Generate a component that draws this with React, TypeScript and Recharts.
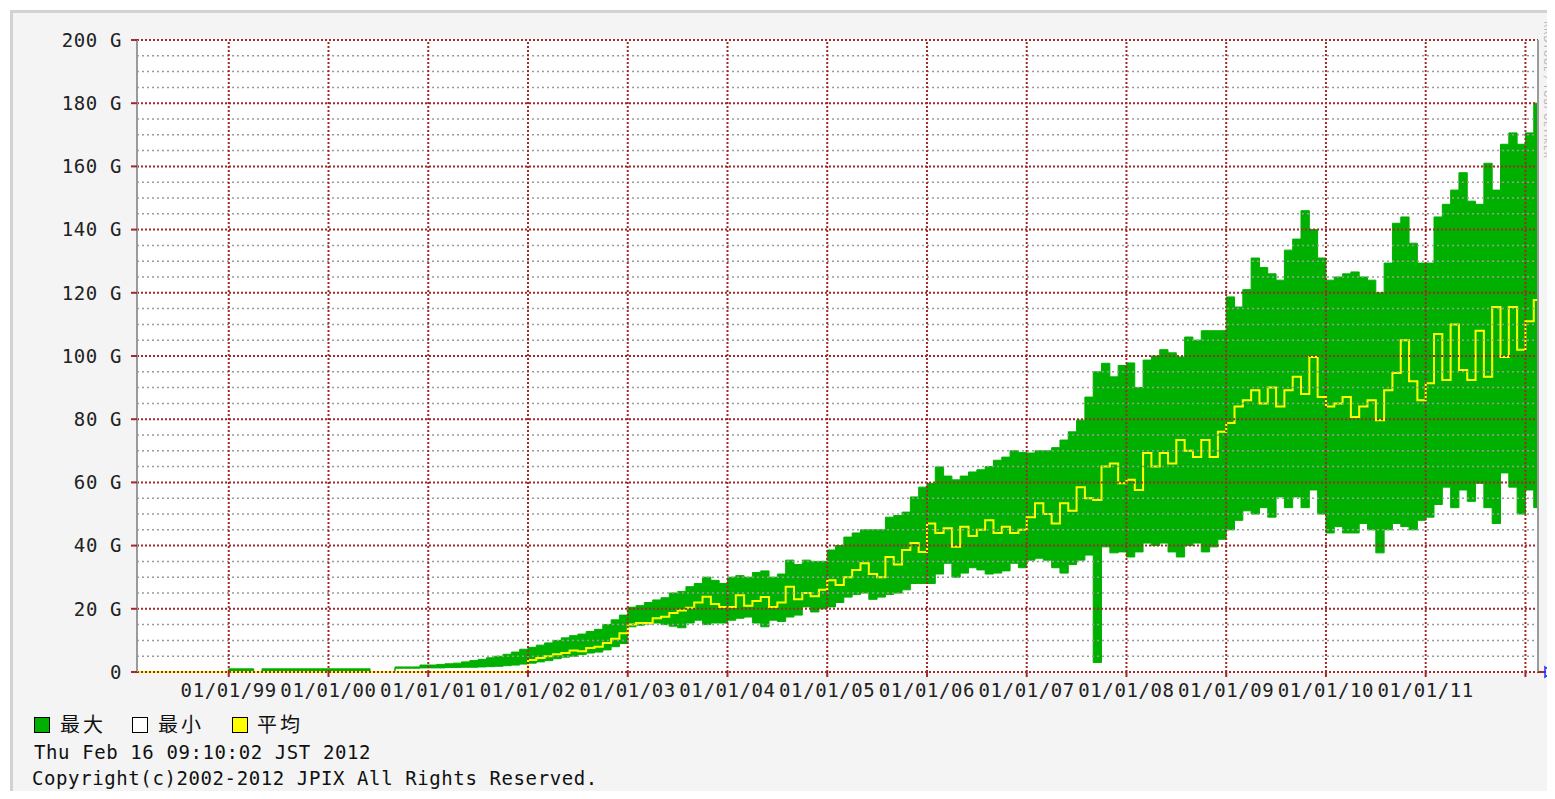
import React from "react";
import { ComposedChart, Area, Line, XAxis, YAxis, ReferenceLine, CartesianGrid } from "recharts";

// monthly samples, first one is Feb 1998; the last entry is the graph end (Feb 16 2012)
const FIRST_MONTH = 1998 + 1 / 12;
const END_TIME = 2012.126;

// traffic in Gbps
const maxG = [
  0, 0, 0, 0, 0, 0, 0, 0, 0, 0, 0,
  1, 1, 1, 0, 1, 1, 1, 1, 1, 1, 1, 1,
  1, 1, 1, 1, 1, 0, 0, 0, 1.6, 1.6, 1.6, 2.2,
  2.2, 2.4, 2.6, 2.8, 3.2, 3.6, 4.0, 4.5, 5.0, 5.6, 6.3, 7.2,
  7.8, 8.5, 9.2, 10, 10.8, 11.5, 12, 12.8, 13.5, 15, 16.5, 18,
  20.5, 21, 22, 22.8, 23.5, 25, 25.5, 27, 28, 30, 29, 28,
  30, 30.5, 30, 31.5, 32, 30, 31, 35.4, 34, 35.4, 35, 35,
  38.6, 40, 42.7, 44, 45, 45, 45, 49, 49.5, 50.6, 55.4, 58.5,
  59.7, 64.9, 62, 60.8, 62, 63.3, 64, 65, 67, 68, 70, 69.5,
  69.3, 70, 70, 71, 73.4, 76, 79.7, 87, 95, 97.7, 93.4, 97,
  97.8, 90, 98.7, 100, 102, 101, 99.7, 106, 105, 108, 108, 108,
  118.7, 115.5, 121, 131, 128, 126, 124, 133.5, 137, 146, 140, 131,
  124, 125, 126, 126.6, 125, 124, 120, 129.4, 142, 144, 135.7, 129.4,
  129.4, 144, 148, 152.5, 158, 149, 148, 161, 152.5, 167, 170.6, 167,
  170.6, 180,
  178,
];

const minG = [
  0, 0, 0, 0, 0, 0, 0, 0, 0, 0, 0,
  0, 0, 0, 0, 0, 0, 0, 0, 0, 0, 0, 0,
  0, 0, 0, 0, 0, 0, 0, 0, 1.2, 1.2, 1.2, 1.3,
  1.3, 1.3, 1.4, 1.4, 1.5, 1.5, 1.6, 1.7, 1.8, 2.0, 2.2, 2.5,
  2.8, 3.2, 3.6, 4.2, 4.7, 5.0, 5.5, 6.0, 6.3, 7.0, 8.0, 9.0,
  14.3, 14.8, 15.2, 15.5, 15, 14.5, 14, 15.5, 16.4, 15, 15.5, 15.5,
  16.4, 17, 17.4, 15.5, 14.3, 16.4, 16, 17.4, 18, 20.6, 19, 20,
  20.6, 22, 23.7, 24.5, 25, 23, 23.7, 24.5, 25, 26, 28, 28,
  28, 31, 34.4, 30, 31.3, 33, 32.3, 31, 31.3, 32, 34.4, 33,
  35.4, 36, 35.4, 33, 31.3, 34, 35.4, 37, 3, 39.6, 37.7, 38,
  36.4, 38, 40.8, 40, 40.8, 38, 36.4, 40, 40.8, 38, 39.6, 42,
  45, 48, 51, 50, 52, 49, 55.4, 52, 55.4, 52, 57.6, 50,
  44, 46, 44, 44, 47, 45, 37.7, 45, 47, 46, 45, 48,
  49, 53, 58.5, 52, 57.6, 54, 59.7, 52, 47, 63, 58.5, 50,
  57.6, 52,
  52,
];

const avgG = [
  0, 0, 0, 0, 0, 0, 0, 0, 0, 0, 0,
  0, 0, 0, 0, 0, 0, 0, 0, 0, 0, 0, 0,
  0, 0, 0, 0, 0, 0, 0, 0, 0, 0, 0, 0,
  0, 0, 0, 0, 0, 0, 0, 0, 0, 0, 0, 0,
  3.8, 4.4, 5.0, 5.6, 6.0, 6.8, 6.6, 7.6, 8.0, 9.2, 10.5, 12.3,
  15, 15.5, 15.5, 17, 17.5, 18.7, 19.5, 20.3, 22, 23.8, 21.5, 20.6,
  20.6, 24.3, 21, 22.5, 23.7, 20.6, 22, 27, 23, 25, 24, 26,
  29, 27.5, 30, 32.3, 34.4, 31, 30, 36.4, 34, 38.6, 40.8, 38,
  47, 44, 45.5, 39.6, 46, 43, 45, 48, 44, 46, 44, 45,
  49, 53.4, 50, 47, 53.4, 51, 58.5, 55, 54.4, 65, 66, 59.7,
  60.8, 57.6, 69.3, 65, 69.3, 66, 73.4, 70, 68, 73.4, 68, 76,
  78.8, 84, 86, 89.2, 85, 90, 84, 89.2, 93.4, 88, 99.7, 87,
  84, 85, 87, 80.7, 84, 86, 79.7, 89.2, 94.6, 105, 92, 86,
  91.4, 107, 92.4, 110, 95.6, 92.4, 108, 93.4, 115.5, 99.7, 115.5, 102,
  111, 117.7,
  104,
];

const yearTicks = [1999, 2000, 2001, 2002, 2003, 2004, 2005, 2006, 2007, 2008, 2009, 2010, 2011, 2012];
const valueTicks = [0, 20, 40, 60, 80, 100, 120, 140, 160, 180, 200];
const minorTicks = valueTicks.slice(0, -1).flatMap((v) => [v + 5, v + 10, v + 15]);

const data = maxG.map((mx, i) => ({
  t: i < maxG.length - 1 ? FIRST_MONTH + i / 12 : END_TIME,
  band: [minG[i], mx],
  avg: avgG[i],
}));

const GREEN = "#00b000";
const YELLOW = "#ffff00";
const GRID_RED = "#a02a2a";
const GRID_GRAY = "#9a9a9a";
const MONO = "'DejaVu Sans Mono', monospace";
const CJK = "'Noto Sans CJK JP', sans-serif";

const yearLabel = (y: number) => (y >= 2012 ? "" : `01/01/${String(y % 100).padStart(2, "0")}`);
const valueLabel = (v: number) => (v === 0 ? "0" : `${v} G`);

function LegendBox({ color, left }: { color: string; left: number }) {
  return (
    <div
      style={{
        position: "absolute",
        left,
        top: 704,
        width: 14,
        height: 14,
        background: color,
        border: "1px solid #000",
      }}
    />
  );
}

function LegendText({ text, left }: { text: string; left: number }) {
  return (
    <div
      style={{
        position: "absolute",
        left,
        top: 698,
        fontFamily: CJK,
        fontSize: 20,
        letterSpacing: 3,
        color: "#111",
        lineHeight: "26px",
      }}
    >
      {text}
    </div>
  );
}

export default function App() {
  return (
    <div
      style={{
        position: "relative",
        marginLeft: 2,
        marginTop: 2,
        width: 1542,
        height: 778,
        background: "#f4f4f4",
        borderLeft: "3px solid #d2d2d2",
        borderTop: "3px solid #d2d2d2",
        overflow: "hidden",
      }}
    >
      <ComposedChart
        width={1542}
        height={690}
        data={data}
        margin={{ top: 27, right: 17, bottom: 1, left: 64 }}
        style={{ position: "absolute", left: 0, top: 0 }}
      >
        <CartesianGrid fill="#ffffff" horizontal={false} vertical={false} stroke="none" />
        <XAxis
          type="number"
          dataKey="t"
          domain={[1998.08, END_TIME]}
          ticks={yearTicks}
          tickFormatter={yearLabel}
          interval={0}
          height={30}
          axisLine={false}
          tickLine={{ stroke: GRID_RED, strokeWidth: 2 }}
          tickSize={5}
          tickMargin={7}
          tick={{ fontFamily: MONO, fontSize: 19, fill: "#222", letterSpacing: 0.6 }}
          allowDataOverflow
        />
        <YAxis
          type="number"
          domain={[0, 200]}
          ticks={valueTicks}
          tickFormatter={valueLabel}
          interval={0}
          width={60}
          axisLine={{ stroke: "#9a9a9a", strokeWidth: 2 }}
          tickLine={{ stroke: GRID_RED, strokeWidth: 2 }}
          tickSize={6}
          tickMargin={9}
          tick={{ fontFamily: MONO, fontSize: 19, fill: "#222", letterSpacing: 0.6 }}
        />
        <Area
          type="stepAfter"
          dataKey="band"
          stroke={GREEN}
          strokeWidth={1}
          fill={GREEN}
          fillOpacity={1}
          isAnimationActive={false}
        />
        <Line
          type="stepAfter"
          dataKey="avg"
          stroke={YELLOW}
          strokeWidth={2}
          dot={false}
          activeDot={false}
          isAnimationActive={false}
        />
        {minorTicks.map((v) => (
          <ReferenceLine
            key={`m${v}`}
            y={v}
            stroke={GRID_GRAY}
            strokeWidth={1.5}
            strokeDasharray="2 3"
          />
        ))}
        {valueTicks.map((v) => (
          <ReferenceLine
            key={`v${v}`}
            y={v}
            stroke={GRID_RED}
            strokeWidth={2}
            strokeDasharray="2 2"
          />
        ))}
        {yearTicks.map((y) => (
          <ReferenceLine
            key={`y${y}`}
            x={y}
            stroke={GRID_RED}
            strokeWidth={2}
            strokeDasharray="2 2"
          />
        ))}
        <ReferenceLine x={END_TIME} stroke="#9a9a9a" strokeWidth={2} />
      </ComposedChart>

      {/* axis arrow at the end of the time axis */}
      <svg
        width={16}
        height={14}
        style={{ position: "absolute", left: 1525, top: 652 }}
      >
        <line x1={0} y1={7} x2={8} y2={7} stroke={GRID_RED} strokeWidth={2} />
        <polygon points="7,2 14,7 7,12" fill="none" stroke="#2030ff" strokeWidth={1.5} />
      </svg>

      {/* rrdtool watermark on the right edge */}
      <div
        style={{
          position: "absolute",
          left: 1529,
          top: 8,
          writingMode: "vertical-rl",
          fontFamily: "'DejaVu Sans', sans-serif",
          fontSize: 9,
          letterSpacing: 1,
          color: "#b0b0b0",
        }}
      >
        RRDTOOL / TOBI OETIKER
      </div>

      <LegendBox color={GREEN} left={21} />
      <LegendText text="最大" left={47} />
      <LegendBox color="#ffffff" left={119} />
      <LegendText text="最小" left={145} />
      <LegendBox color={YELLOW} left={219} />
      <LegendText text="平均" left={244} />

      <div
        style={{
          position: "absolute",
          left: 21,
          top: 727,
          fontFamily: MONO,
          fontSize: 19,
          letterSpacing: 0.6,
          color: "#111",
          lineHeight: "24px",
          whiteSpace: "pre",
        }}
      >
        Thu Feb 16 09:10:02 JST 2012
      </div>
      <div
        style={{
          position: "absolute",
          left: 19,
          top: 753,
          fontFamily: MONO,
          fontSize: 19,
          letterSpacing: 0.6,
          color: "#111",
          lineHeight: "24px",
          whiteSpace: "pre",
        }}
      >
        Copyright(c)2002-2012 JPIX All Rights Reserved.
      </div>
    </div>
  );
}
